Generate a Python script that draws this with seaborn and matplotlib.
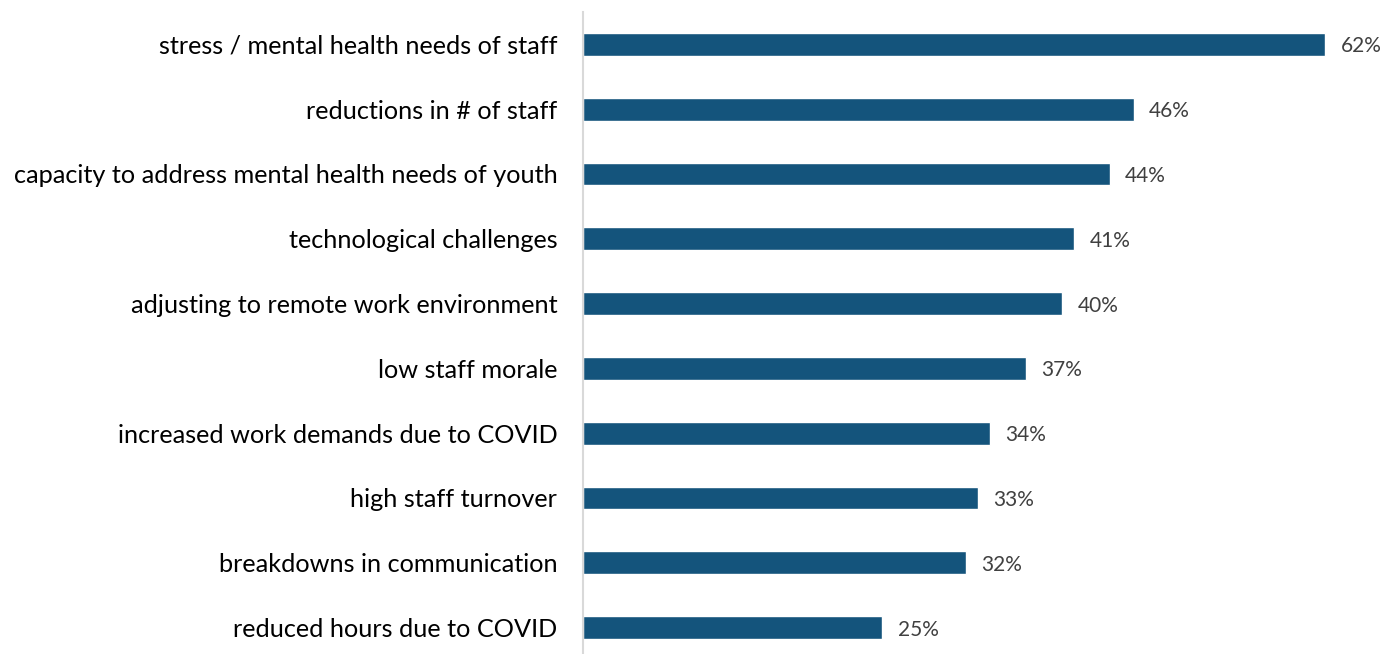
import matplotlib
matplotlib.use("Agg")
import matplotlib.pyplot as plt
import seaborn as sns
import pandas as pd

categories = [
    "stress / mental health needs of staff",
    "reductions in # of staff",
    "capacity to address mental health needs of youth",
    "technological challenges",
    "adjusting to remote work environment",
    "low staff morale",
    "increased work demands due to COVID",
    "high staff turnover",
    "breakdowns in communication",
    "reduced hours due to COVID",
]
values = [62, 46, 44, 41, 40, 37, 34, 33, 32, 25]

df = pd.DataFrame({"challenge": categories, "pct": values})

sns.set_theme(style="white")
plt.rcParams["font.family"] = ["Lato", "DejaVu Sans"]

W, H = 1397, 654
fig = plt.figure(figsize=(W / 100, H / 100), dpi=100)
left_px, right_px, top_px, bottom_px = 583, 1397, 12, 660
ax = fig.add_axes([left_px / W, (H - bottom_px) / H,
                   (right_px - left_px) / W, (bottom_px - top_px) / H])

sns.barplot(data=df, x="pct", y="challenge", orient="h", color="#14547C",
            saturation=1, width=0.35, ax=ax)

ax.set_xlim(0, (right_px - left_px) / 11.97)
ax.set_ylim(9.5, -0.5)

for i, v in enumerate(values):
    ax.text(v + 1.3, i + 0.03, f"{v}%", va="center", ha="left",
            fontsize=15, color="#404040")

ax.set_xlabel("")
ax.set_ylabel("")
ax.set_xticks([])
ax.tick_params(axis="y", length=0, pad=18.5, labelsize=18.2, labelcolor="#000000")
for s in ["top", "right", "bottom"]:
    ax.spines[s].set_visible(False)
ax.spines["left"].set_color("#D9D9D9")
ax.spines["left"].set_linewidth(1.5)

fig.savefig("out.png", dpi=100)
